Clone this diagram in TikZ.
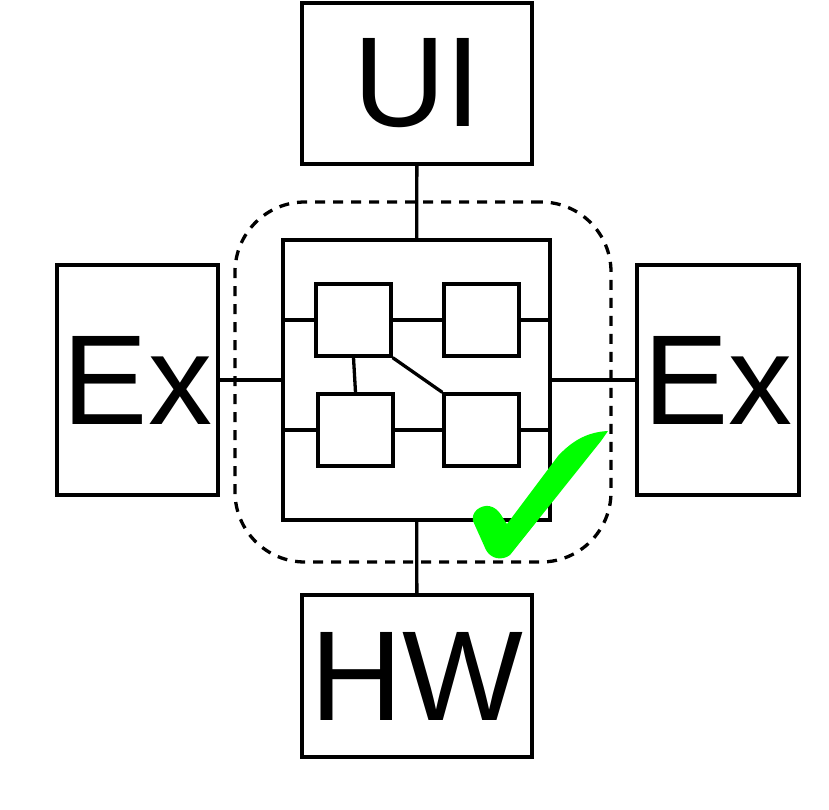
\documentclass[tikz,border=0pt]{standalone}
\usepackage{fontspec}
\setmainfont{Liberation Sans}
\usepackage{xcolor}
\usepackage{tikz}
\usetikzlibrary{positioning}
\definecolor{checkgreen}{HTML}{00FF00}

\begin{document}
\begin{tikzpicture}[x=1pt,y=-1pt,line width=3.3pt,
    big/.style={draw,inner sep=0pt,font=\fontsize{128}{128}\selectfont},
    part/.style={draw,inner sep=0pt,minimum width=75pt,minimum height=72pt}]
      \useasboundingbox (0,0) rectangle (829,810);
      \node[big,minimum width=230pt,minimum height=161pt](ui) at (417,83.5){UI};
      \node[big,minimum width=161pt,minimum height=230pt](exl) at (137.5,380){Ex};
      \node[big,minimum width=162pt,minimum height=230pt](exr) at (718,380){Ex};
      \node[big,minimum width=230pt,minimum height=162pt](hw) at (417,676){HW};
      \node[draw,dashed,dash pattern=on 10pt off 8pt,rounded corners=70pt,
        minimum width=376pt,minimum height=360pt](zone) at (423,382){};
      \node[draw,minimum width=267pt,minimum height=280pt](core) at (416.5,380){};
      \node[part](tl) at (353.5,320){};
      \node[part](tr) at (481.5,320){};
      \node[part](bl) at (355.5,430){};
      \node[part](br) at (481.5,430){};
      \draw (ui) -- (core);
      \draw (hw) -- (core);
      \draw (exl) -- (core);
      \draw (core) -- (exr);
      \draw (tl) -- (tr);
      \draw (bl) -- (br);
      \draw (tl.south) -- (bl.north);
      \draw (tl.south east) -- (br.north west);
      \draw (tl.west) -- (tl.west -| core.west);
      \draw (bl.west) -- (bl.west -| core.west);
      \draw (tr.east) -- (tr.east -| core.east);
      \draw (br.east) -- (br.east -| core.east);
      % check mark
      \fill[checkgreen] (608,431) .. controls (588,432) and (573,440) .. (558,456)
        -- (507,524) .. controls (503,520) and (500,508) .. (489,506)
        .. controls (480,505) and (471,512) .. (473,521)
        -- (486,550) .. controls (491,559) and (502,561) .. (510,555)
        -- (601,441) .. controls (605,436) .. (608,431) -- cycle;
    \end{tikzpicture}
\end{document}
